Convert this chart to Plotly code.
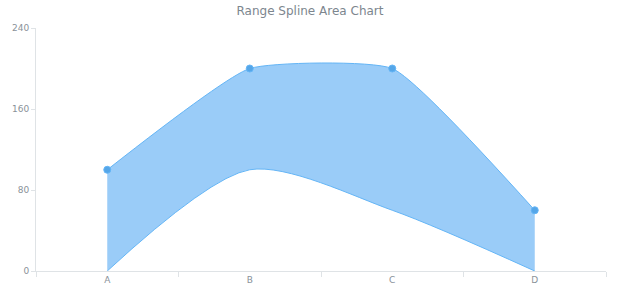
import plotly.graph_objects as go

categories = ["A", "B", "C", "D"]
high_values = [100, 200, 200, 60]
low_values = [0, 100, 60, 0]
y_ticks = [0, 80, 160, 240]

fig = go.Figure()
fig.add_trace(go.Scatter(
    x=categories, y=low_values, mode="lines",
    line=dict(shape="spline", smoothing=0.8, color="#64B5F6", width=1),
    hoverinfo="skip", showlegend=False,
))
fig.add_trace(go.Scatter(
    x=categories, y=high_values, mode="lines+markers",
    line=dict(shape="spline", smoothing=0.45, color="#64B5F6", width=1),
    marker=dict(size=7, color="#55A6E8", line=dict(width=1, color="#64B5F6")),
    fill="tonexty", fillcolor="rgba(100,176,244,0.65)",
    showlegend=False,
))

fig.update_layout(
    width=620, height=300,
    margin=dict(l=33, r=14, t=28, b=29),
    paper_bgcolor="white", plot_bgcolor="white",
    font=dict(family="DejaVu Sans", color="#8a9299", size=9),
    title=dict(text="Range Spline Area Chart", x=0.5, xanchor="center",
               y=0.965, yanchor="middle",
               font=dict(family="DejaVu Sans", size=12, color="#7c868e")),
    xaxis=dict(type="category", range=[-0.5, 3.5], showgrid=False,
               showline=True, linecolor="#dfe3e6", linewidth=1,
               ticks="outside", tickson="boundaries", ticklen=5,
               tickcolor="#dfe3e6", zeroline=False),
    yaxis=dict(range=[0, 240], tickvals=y_ticks, showgrid=False,
               showline=True, linecolor="#dfe3e6", linewidth=1,
               ticks="outside", ticklen=4, tickcolor="#dfe3e6",
               zeroline=False),
)

fig.write_html("out.html")
